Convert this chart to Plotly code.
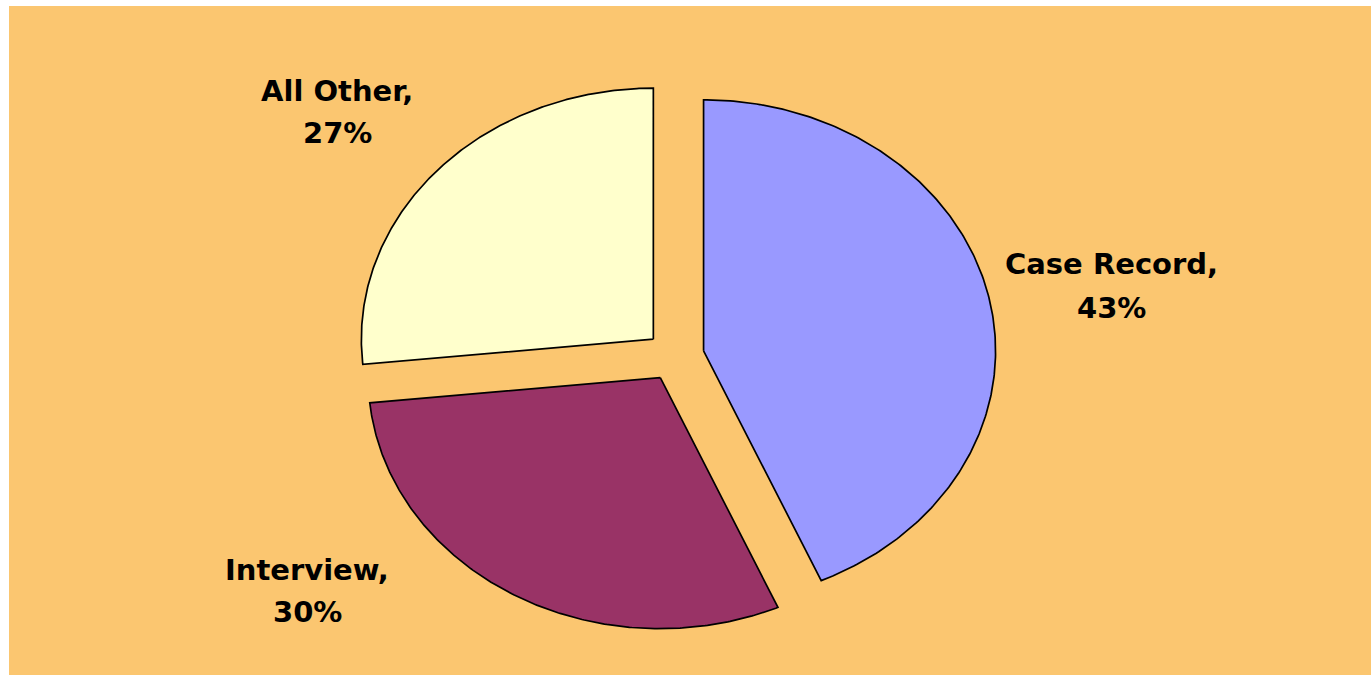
import numpy as np
import plotly.graph_objects as go

# ---- data ----
categories = ["Case Record", "Interview", "All Other"]
values = [43.4, 30.0, 26.6]
colors = ["#9999FF", "#993366", "#FFFFCC"]

# ---- layout / style ----
W, H = 1371, 675
CX, CY = 675, 356          # pie centre in pixels (from top-left)
RX, RY = 292, 251          # ellipse radii in pixels
PULL = 0.10                # explosion, in radius units
BG = "#FBC670"
FONT = dict(family="Comic Sans MS, DejaVu Sans, sans-serif", size=29, color="black")
# label anchor (pixel) positions for each category: (x, line1 y, line2 y)
label_pos = {"Case Record": (1111, 264, 308),
             "Interview": (307, 570, 612),
             "All Other": (337, 91, 133)}

fig = go.Figure()

total = sum(values)
start = 0.0
for cat, val, col in zip(categories, values, colors):
    a0 = start / total * 2 * np.pi
    a1 = (start + val) / total * 2 * np.pi
    mid = (a0 + a1) / 2
    ox, oy = PULL * np.sin(mid), PULL * np.cos(mid)
    t = np.linspace(a0, a1, 240)
    xs = np.concatenate([[ox], ox + np.sin(t), [ox]])
    ys = np.concatenate([[oy], oy + np.cos(t), [oy]])
    fig.add_trace(go.Scatter(x=xs, y=ys, mode="lines", fill="toself",
                             fillcolor=col, line=dict(color="black", width=1.7),
                             hoverinfo="skip", showlegend=False, name=cat))
    start += val

for cat, val in zip(categories, values):
    px, py1, py2 = label_pos[cat]
    pct = round(val / total * 100)
    for txt, py in ((cat + ",", py1), (f"{pct}%", py2)):
        fig.add_annotation(x=px / W, y=1 - py / H, xref="paper", yref="paper",
                           text=f"<b>{txt}</b>", showarrow=False,
                           xanchor="center", yanchor="middle", font=FONT)

fig.add_shape(type="rect", xref="paper", yref="paper",
              x0=9 / W, x1=1.0, y0=0, y1=1 - 6 / H,
              fillcolor=BG, line=dict(width=0), layer="below")

fig.update_layout(
    width=W, height=H, autosize=False,
    margin=dict(l=0, r=0, t=0, b=0),
    paper_bgcolor="white", plot_bgcolor="rgba(0,0,0,0)",
    xaxis=dict(range=[-CX / RX, (W - CX) / RX], visible=False, fixedrange=True),
    yaxis=dict(range=[-(H - CY) / RY, CY / RY], visible=False, fixedrange=True),
)

fig.write_html("out.html")
